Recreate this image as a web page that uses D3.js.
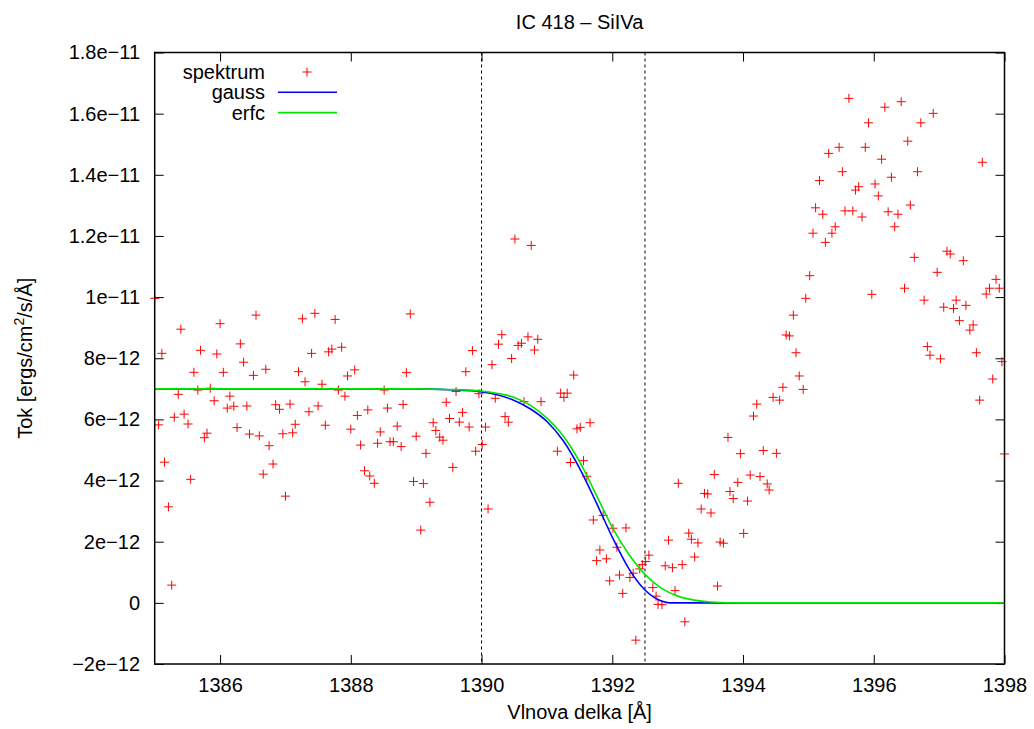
<!DOCTYPE html>
<html>
<head>
<meta charset="utf-8">
<script src="https://cdn.jsdelivr.net/npm/d3@7"></script>
<style>
  body { margin: 0; background: #fff; }
  svg { display: block; font-family: "Liberation Sans", Arial, sans-serif; }
</style>
</head>
<body>
<div id="chart"></div>
<script>
// spectrum points: wavelength [A] and flux [1e-12 ergs/cm2/s/A]
const waveX = [
  1385.00, 1385.06, 1385.11, 1385.15, 1385.21, 1385.26, 1385.30, 1385.36, 1385.40, 1385.45,
  1385.51, 1385.55, 1385.60, 1385.66, 1385.70, 1385.76, 1385.80, 1385.85, 1385.91, 1385.95,
  1386.00, 1386.05, 1386.11, 1386.15, 1386.21, 1386.26, 1386.31, 1386.36, 1386.41, 1386.45,
  1386.51, 1386.55, 1386.60, 1386.66, 1386.70, 1386.75, 1386.81, 1386.85, 1386.91, 1386.96,
  1387.00, 1387.07, 1387.11, 1387.15, 1387.20, 1387.26, 1387.30, 1387.36, 1387.40, 1387.45,
  1387.50, 1387.56, 1387.61, 1387.66, 1387.71, 1387.76, 1387.81, 1387.86, 1387.91, 1387.95,
  1388.00, 1388.06, 1388.10, 1388.15, 1388.21, 1388.26, 1388.29, 1388.36, 1388.41, 1388.45,
  1388.51, 1388.56, 1388.60, 1388.65, 1388.71, 1388.77, 1388.80, 1388.85, 1388.91, 1388.96,
  1389.00, 1389.07, 1389.11, 1389.15, 1389.21, 1389.26, 1389.30, 1389.36, 1389.41, 1389.46,
  1389.51, 1389.56, 1389.61, 1389.66, 1389.71, 1389.76, 1389.81, 1389.86, 1389.91, 1389.96,
  1390.01, 1390.06, 1390.10, 1390.16, 1390.21, 1390.26, 1390.31, 1390.36, 1390.41, 1390.46,
  1390.51, 1390.56, 1390.61, 1390.65, 1390.71, 1390.76, 1390.81, 1390.86, 1390.91, 1391.16,
  1391.21, 1391.26, 1391.31, 1391.36, 1391.41, 1391.46, 1391.51, 1391.56, 1391.61, 1391.66,
  1391.71, 1391.76, 1391.81, 1391.86, 1391.91, 1391.96, 1392.01, 1392.07, 1392.11, 1392.16,
  1392.21, 1392.27, 1392.32, 1392.36, 1392.42, 1392.46, 1392.51, 1392.56, 1392.62, 1392.67,
  1392.70, 1392.76, 1392.81, 1392.86, 1392.92, 1392.96, 1393.01, 1393.07, 1393.11, 1393.17,
  1393.21, 1393.26, 1393.31, 1393.36, 1393.41, 1393.46, 1393.51, 1393.56, 1393.61, 1393.65,
  1393.70, 1393.77, 1393.80, 1393.85, 1393.92, 1393.96, 1394.01, 1394.07, 1394.11, 1394.16,
  1394.21, 1394.26, 1394.31, 1394.37, 1394.40, 1394.46, 1394.51, 1394.56, 1394.61, 1394.66,
  1394.71, 1394.77, 1394.81, 1394.86, 1394.92, 1394.96, 1395.02, 1395.07, 1395.11, 1395.17,
  1395.22, 1395.26, 1395.31, 1395.36, 1395.41, 1395.47, 1395.52, 1395.56, 1395.62, 1395.68,
  1395.72, 1395.77, 1395.82, 1395.87, 1395.92, 1395.97, 1396.02, 1396.07, 1396.12, 1396.17,
  1396.22, 1396.27, 1396.32, 1396.37, 1396.42, 1396.47, 1396.52, 1396.56, 1396.62, 1396.67,
  1396.72, 1396.77, 1396.82, 1396.86, 1396.91, 1396.97, 1397.02, 1397.07, 1397.12, 1397.17,
  1397.22, 1397.26, 1397.31, 1397.37, 1397.41, 1397.47, 1397.52, 1397.57, 1397.62, 1397.66,
  1397.72, 1397.77, 1397.82, 1397.87, 1397.92, 1397.96, 1398.00
];
const fluxY = [
  9.96, 5.82, 8.16, 4.60, 3.14, 0.58, 6.07, 6.82, 8.95, 6.17,
  5.85, 4.04, 7.54, 6.96, 8.26, 5.40, 5.55, 7.02, 6.61, 8.14,
  9.13, 7.54, 6.37, 6.76, 6.43, 5.73, 8.47, 7.87, 6.44, 5.52,
  7.44, 9.41, 5.46, 4.21, 7.64, 5.14, 4.54, 6.48, 6.33, 5.53,
  3.49, 6.50, 5.56, 5.84, 7.56, 9.29, 7.23, 6.25, 8.16, 9.47,
  6.44, 7.15, 5.81, 8.21, 8.30, 9.27, 6.96, 8.36, 6.76, 7.42,
  5.68, 7.62, 6.13, 5.16, 4.32, 6.31, 4.15, 3.91, 5.22, 5.59,
  6.96, 6.37, 5.27, 5.27, 5.78, 5.11, 6.49, 7.53, 9.45, 3.97,
  5.45, 2.38, 3.90, 4.89, 3.29, 5.89, 5.64, 5.42, 5.32, 6.56,
  6.03, 4.43, 6.91, 5.91, 6.23, 7.56, 5.75, 8.25, 4.96, 6.84,
  5.18, 5.75, 3.07, 7.79, 6.69, 8.46, 8.77, 6.09, 5.91, 7.99,
  11.90, 8.42, 8.49, 6.58, 8.70, 11.69, 8.27, 8.62, 6.58, 4.96,
  6.86, 6.72, 6.86, 4.59, 7.45, 5.69, 5.74, 4.65, 4.14, 5.89,
  2.71, 1.38, 1.73, 2.86, 1.44, 0.72, 2.44, 1.82, 0.91, 0.31,
  2.45, 0.83, 0.97, -1.22, 1.11, 1.25, 1.35, 1.56, 0.50, 0.22,
  -0.05, -0.06, 1.21, 2.05, 1.15, 0.40, 3.91, 1.25, -0.62, 2.28,
  2.08, 1.50, 1.96, 3.07, 3.58, 3.56, 2.94, 4.20, 0.55, 1.99,
  1.95, 5.41, 3.64, 3.41, 3.94, 4.88, 2.27, 3.33, 4.18, 6.11,
  6.50, 4.13, 4.98, 3.89, 3.69, 6.72, 4.89, 6.63, 7.05, 8.76,
  8.73, 9.41, 8.18, 7.42, 6.98, 9.96, 10.70, 12.09, 12.92, 13.81,
  12.71, 11.79, 14.70, 12.09, 12.30, 14.90, 14.10, 12.82, 16.50, 12.82,
  13.50, 13.61, 12.62, 14.90, 15.70, 10.09, 13.70, 13.31, 14.51, 16.21,
  12.79, 13.92, 12.30, 12.71, 16.39, 10.29, 15.10, 13.01, 11.30, 14.10,
  15.70, 9.90, 8.38, 8.10, 16.01, 10.81, 7.98, 9.67, 11.50, 11.41,
  9.63, 9.90, 9.23, 11.19, 9.73, 8.92, 9.09, 8.18, 6.63, 14.41,
  10.10, 10.29, 7.32, 10.58, 10.29, 7.89, 4.87
];

// fitted curves (flux in 1e-12)
const gaussX = [1385, 1389.0, 1389.5, 1390.0, 1390.25, 1390.5, 1390.75, 1391.0, 1391.25, 1391.5, 1391.75, 1392.0, 1392.25, 1392.5, 1392.75, 1392.88, 1398];
const gaussY = [7.0, 7.0, 6.97, 6.90, 6.80, 6.62, 6.34, 5.93, 5.30, 4.40, 3.30, 2.15, 1.13, 0.42, 0.06, 0.0, 0.0];
const erfcX = [1385, 1389.0, 1389.5, 1390.0, 1390.25, 1390.5, 1390.75, 1391.0, 1391.25, 1391.5, 1391.75, 1392.0, 1392.25, 1392.5, 1392.75, 1393.0, 1393.25, 1393.5, 1394.0, 1398];
const erfcY = [7.0, 7.0, 6.98, 6.93, 6.85, 6.72, 6.46, 6.04, 5.46, 4.62, 3.55, 2.47, 1.60, 0.93, 0.48, 0.22, 0.09, 0.03, 0.0, 0.0];

// vertical marker lines
const markLines = [1390, 1392.5];

// axes
const xTicks = [1386, 1388, 1390, 1392, 1394, 1396, 1398];
const yTicks = [-2e-12, 0, 2e-12, 4e-12, 6e-12, 8e-12, 1e-11, 1.2e-11, 1.4e-11, 1.6e-11, 1.8e-11];
const yTickLabels = ["\u22122e\u221212", "0", "2e\u221212", "4e\u221212", "6e\u221212", "8e\u221212",
  "1e\u221211", "1.2e\u221211", "1.4e\u221211", "1.6e\u221211", "1.8e\u221211"];

const W = 1034, H = 729;
const L = 154.7, R = 1004.5, T = 52.5, B = 664;
const FONT = 20;

const x = d3.scaleLinear().domain([1385, 1398]).range([L, R]);
const y = d3.scaleLinear().domain([-2e-12, 1.8e-11]).range([B, T]);

const svg = d3.select("#chart").append("svg")
    .attr("width", W)
    .attr("height", H);

svg.append("rect").attr("width", W).attr("height", H).attr("fill", "#fff");

// axes with inward ticks, mirrored on all sides
function styleAxis(g) {
    g.select(".domain").remove();
    g.selectAll("line").attr("stroke", "#000").attr("stroke-width", 1);
    g.selectAll("text").attr("font-size", FONT).attr("fill", "#000");
    g.attr("font-family", null).attr("font-size", null);
}

svg.append("g")
    .attr("transform", `translate(0,${B})`)
    .call(d3.axisBottom(x).tickValues(xTicks).tickFormat(d3.format("d")).tickSizeInner(-9).tickSizeOuter(0).tickPadding(14))
    .call(styleAxis);

svg.append("g")
    .attr("transform", `translate(0,${T})`)
    .call(d3.axisTop(x).tickValues(xTicks).tickFormat("").tickSizeInner(-9).tickSizeOuter(0))
    .call(styleAxis);

svg.append("g")
    .attr("transform", `translate(${L},0)`)
    .call(d3.axisLeft(y).tickValues(yTicks).tickFormat((d, i) => yTickLabels[i]).tickSizeInner(-9).tickSizeOuter(0).tickPadding(14.7))
    .call(styleAxis);

svg.append("g")
    .attr("transform", `translate(${R},0)`)
    .call(d3.axisRight(y).tickValues(yTicks).tickFormat("").tickSizeInner(-9).tickSizeOuter(0))
    .call(styleAxis);

// dashed vertical lines
svg.append("g").selectAll("line")
    .data(markLines)
    .enter().append("line")
    .attr("x1", d => x(d)).attr("x2", d => x(d))
    .attr("y1", T).attr("y2", B)
    .attr("stroke", "#000")
    .attr("stroke-width", 1)
    .attr("stroke-dasharray", "3,3");

// spectrum points as "+"
const plus = "M-4.5,0H4.5M0,-4.5V4.5";
const spectrum = waveX.map((w, i) => ({ w, f: fluxY[i] * 1e-12 }));
svg.append("g").selectAll("path")
    .data(spectrum)
    .enter().append("path")
    .attr("d", plus)
    .attr("transform", d => `translate(${x(d.w)},${y(d.f)})`)
    .attr("stroke", "#ff0000")
    .attr("stroke-width", 1)
    .attr("fill", "none");

// fitted curves
const line = d3.line()
    .x(d => x(d[0]))
    .y(d => y(d[1] * 1e-12))
    .curve(d3.curveMonotoneX);

svg.append("path")
    .datum(gaussX.map((v, i) => [v, gaussY[i]]))
    .attr("d", line)
    .attr("fill", "none")
    .attr("stroke", "#0000ff")
    .attr("stroke-width", 1.6);

svg.append("path")
    .datum(erfcX.map((v, i) => [v, erfcY[i]]))
    .attr("d", line)
    .attr("fill", "none")
    .attr("stroke", "#00e600")
    .attr("stroke-width", 1.6);

// border
svg.append("rect")
    .attr("x", L).attr("y", T)
    .attr("width", R - L).attr("height", B - T)
    .attr("fill", "none")
    .attr("stroke", "#000")
    .attr("stroke-width", 1.5);

// legend
const legendItems = [
    { label: "spektrum", type: "point", color: "#ff0000", y: 72 },
    { label: "gauss", type: "line", color: "#0000ff", y: 92.3 },
    { label: "erfc", type: "line", color: "#00e600", y: 112.6 }
];
const legend = svg.append("g");
legendItems.forEach(it => {
    legend.append("text")
        .attr("x", 265).attr("y", it.y + 7)
        .attr("text-anchor", "end")
        .attr("font-size", FONT)
        .text(it.label);
    if (it.type === "point") {
        legend.append("path")
            .attr("d", plus)
            .attr("transform", `translate(307,${it.y})`)
            .attr("stroke", it.color).attr("stroke-width", 1).attr("fill", "none");
    } else {
        legend.append("line")
            .attr("x1", 278).attr("x2", 337)
            .attr("y1", it.y).attr("y2", it.y)
            .attr("stroke", it.color).attr("stroke-width", 1.6);
    }
});

// title and axis labels
svg.append("text")
    .attr("x", (L + R) / 2).attr("y", 29)
    .attr("text-anchor", "middle")
    .attr("font-size", FONT)
    .text("IC 418 \u2013 SiIVa");

svg.append("text")
    .attr("x", (L + R) / 2).attr("y", 719)
    .attr("text-anchor", "middle")
    .attr("font-size", FONT)
    .text("Vlnova delka [\u00c5]");

const ylab = svg.append("text")
    .attr("transform", `translate(32,${(T + B) / 2}) rotate(-90)`)
    .attr("text-anchor", "middle")
    .attr("font-size", FONT);
ylab.append("tspan").text("Tok [ergs/cm");
ylab.append("tspan").attr("font-size", 14).attr("dy", -8).text("2");
ylab.append("tspan").attr("dy", 8).text("/s/\u00c5]");
</script>
</body>
</html>
